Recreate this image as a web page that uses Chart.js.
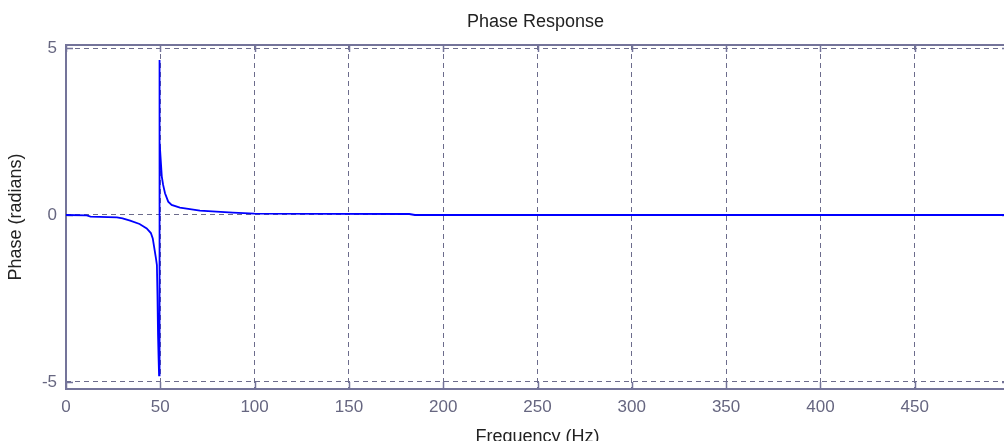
<!DOCTYPE html>
<html>
<head>
<meta charset="utf-8">
<script src="https://cdn.jsdelivr.net/npm/chart.js@4"></script>
<style>
    html, body { margin: 0; padding: 0; background: #ffffff; overflow: hidden; }
    #wrap { position: relative; width: 1004px; height: 441px; overflow: hidden; }
    #chart { position: absolute; left: 0; top: 0; }
</style>
</head>
<body>
<div id="wrap">
    <canvas id="chart" width="1024" height="460"></canvas>
</div>
<script>
// 데이터
const freqHz = [0, 11, 13, 27, 30, 34, 39, 42.8, 45, 46, 46.7, 47.7, 48.2, 48.5, 48.8, 49.1, 49.35,
    49.45, 49.6, 49.75, 50.8, 51.5, 52.5, 54.2, 56, 60.4, 71, 88.5, 100, 182, 185, 500];
const phaseRad = [0, -0.01, -0.05, -0.07, -0.1, -0.17, -0.27, -0.4, -0.54, -0.7, -0.95, -1.3, -1.5, -2.4, -3.6, -4.3, -4.8,
    4.64, 4.4, 2.2, 1.15, 0.9, 0.65, 0.4, 0.3, 0.22, 0.13, 0.07, 0.04, 0.03, 0, 0];
const yTicks = [-5, 0, 5];
const xTickStep = 50;

const frameColor = '#74749a';
const gridColor = '#6c6c8c';
const textColor = '#666680';
const baseFont = { family: '"Liberation Sans", Arial, sans-serif', size: 17 };

// 테두리와 안쪽 눈금
const framePlugin = {
    id: 'frame',
    beforeDatasetsDraw(chart) {
        const { ctx, chartArea: a, scales } = chart;
        ctx.save();
        ctx.strokeStyle = frameColor;
        ctx.lineWidth = 2;
        ctx.strokeRect(a.left, a.top, a.right - a.left, a.bottom - a.top);
        ctx.lineWidth = 1.5;
        ctx.beginPath();
        scales.x.ticks.forEach(t => {
            const px = Math.round(scales.x.getPixelForValue(t.value)) + 0.5;
            ctx.moveTo(px, a.top); ctx.lineTo(px, a.top + 7);
            ctx.moveTo(px, a.bottom); ctx.lineTo(px, a.bottom - 7);
        });
        scales.y.ticks.forEach(t => {
            const py = Math.round(scales.y.getPixelForValue(t.value)) + 0.5;
            ctx.moveTo(a.left, py); ctx.lineTo(a.left + 7, py);
            ctx.moveTo(a.right, py); ctx.lineTo(a.right - 7, py);
        });
        ctx.stroke();
        ctx.restore();
    },
    afterDraw(chart) {
        // 제목: 플롯 영역 가운데
        const { ctx, chartArea: a } = chart;
        ctx.save();
        ctx.fillStyle = '#222222';
        ctx.font = '18px "Liberation Sans", Arial, sans-serif';
        ctx.textAlign = 'center';
        ctx.textBaseline = 'alphabetic';
        ctx.fillText('Phase Response', (a.left + a.right) / 2 - 2, 27);
        ctx.restore();
    }
};

new Chart(document.getElementById('chart'), {
    type: 'line',
    data: {
        datasets: [{
            label: 'Phase',
            data: freqHz.map((f, i) => ({ x: f, y: phaseRad[i] })),
            borderColor: '#0000ff',
            borderWidth: 1.8,
            pointRadius: 0,
            tension: 0,
            fill: false
        }]
    },
    options: {
        responsive: false,
        animation: false,
        layout: { padding: { top: 45, right: 15, left: 0, bottom: 0 } },
        plugins: {
            legend: { display: false },
            title: { display: false },
            tooltip: { enabled: false }
        },
        scales: {
            x: {
                type: 'linear',
                min: 0,
                max: 500,
                afterFit: scale => { scale.height = 71; },
                ticks: {
                    stepSize: xTickStep,
                    color: textColor,
                    font: baseFont,
                    padding: 8,
                    maxRotation: 0,
                    callback: v => (v >= 500 ? '' : v)
                },
                grid: { color: gridColor, lineWidth: 1, drawTicks: false },
                border: { display: false, dash: [5, 4] },
                title: {
                    display: true,
                    text: 'Frequency (Hz)',
                    color: '#222222',
                    font: { family: baseFont.family, size: 18 },
                    padding: { top: 0, bottom: 12 }
                }
            },
            y: {
                type: 'linear',
                min: -5.21,
                max: 5.09,
                afterFit: scale => { scale.width = 66; },
                afterBuildTicks: axis => { axis.ticks = yTicks.map(v => ({ value: v })); },
                ticks: {
                    color: textColor,
                    font: baseFont,
                    padding: 9
                },
                grid: { color: gridColor, lineWidth: 1, drawTicks: false },
                border: { display: false, dash: [5, 4] },
                title: {
                    display: true,
                    text: 'Phase (radians)',
                    color: '#222222',
                    font: { family: baseFont.family, size: 18 },
                    padding: { top: 5, bottom: 0 }
                }
            }
        }
    },
    plugins: [framePlugin]
});
</script>
</body>
</html>
